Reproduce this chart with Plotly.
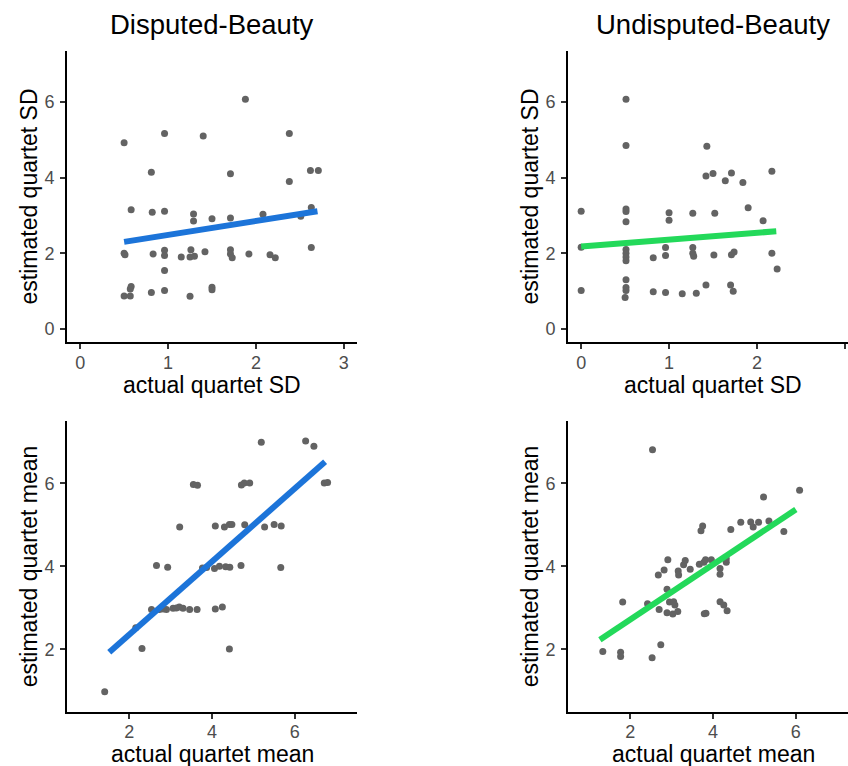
import plotly.graph_objects as go

W, H = 848, 766

# ---------------- data ----------------
# Panel 1: Disputed-Beauty, SD
dsd_x = [0.50, 0.96, 1.40, 1.88, 2.38, 0.81, 1.71, 2.38, 2.62, 2.71,
         0.58, 0.82, 0.96, 1.29, 1.29, 1.50, 1.71, 2.08, 2.51, 2.63,
         0.50, 0.51, 0.83, 0.96, 0.96, 1.15, 1.26, 1.25, 1.30, 1.42,
         1.71, 1.71, 1.73, 1.92, 2.16, 2.22, 2.63, 0.96, 0.58, 0.57,
         0.50, 0.57, 0.81, 0.96, 1.25, 1.50, 1.50]
dsd_y = [4.92, 5.17, 5.10, 6.07, 5.17, 4.14, 4.10, 3.90, 4.19, 4.19,
         3.15, 3.08, 3.11, 3.04, 2.85, 2.91, 2.93, 3.03, 2.98, 3.21,
         2.00, 1.96, 1.98, 2.08, 1.94, 1.90, 2.09, 1.90, 1.92, 2.04,
         2.09, 1.98, 1.88, 1.98, 1.96, 1.88, 2.15, 1.54, 1.12, 1.05,
         0.87, 0.87, 0.96, 1.01, 0.86, 1.10, 1.03]
dsd_fit_x = [0.50, 2.70]
dsd_fit_y = [2.30, 3.11]

# Panel 2: Undisputed-Beauty, SD
usd_x = [0.51, 0.51, 1.43, 1.42, 1.50, 1.71, 1.64, 1.84, 2.17, 0.00,
         0.51, 0.51, 0.51, 1.00, 1.00, 1.27, 1.52, 1.90, 2.07, 0.00,
         0.51, 0.51, 0.51, 0.51, 0.82, 0.96, 0.96, 1.27, 1.27, 1.28,
         1.51, 1.71, 1.74, 2.17, 2.23, 0.00, 0.51, 0.51, 0.51, 0.50,
         0.82, 0.96, 1.15, 1.31, 1.42, 1.70, 1.73]
usd_y = [6.07, 4.85, 4.83, 4.04, 4.11, 4.12, 3.92, 3.87, 4.17, 3.11,
         3.17, 3.10, 2.83, 3.07, 2.87, 3.06, 3.06, 3.20, 2.86, 2.16,
         2.10, 2.00, 1.90, 1.80, 1.88, 2.15, 1.94, 2.15, 2.00, 1.92,
         1.95, 1.96, 2.03, 2.00, 1.58, 1.01, 1.30, 1.09, 1.01, 0.83,
         0.98, 0.96, 0.93, 0.94, 1.16, 1.16, 0.99]
usd_fit_x = [0.00, 2.22]
usd_fit_y = [2.18, 2.58]

# Panel 3: Disputed-Beauty, mean
dmean_x = [1.41, 2.31, 2.16, 4.42, 2.66, 2.93, 3.22, 3.55, 3.65, 4.71,
           4.78, 4.91, 5.19, 6.26, 6.46, 6.71, 6.79, 4.08, 4.30, 4.42,
           4.48, 4.79, 5.27, 5.50, 5.67, 3.77, 3.87, 4.06, 4.18, 4.33,
           4.43, 4.70, 5.66, 2.54, 2.73, 2.90, 3.06, 3.21, 3.30, 3.46,
           3.64, 4.08, 4.25, 2.82, 3.14]
dmean_y = [0.98, 2.02, 2.52, 2.01, 4.02, 3.98, 4.95, 5.97, 5.95, 5.96,
           6.01, 6.01, 6.99, 7.02, 6.89, 6.01, 6.02, 4.97, 4.95, 5.01,
           5.01, 5.00, 4.95, 5.01, 4.97, 3.96, 3.97, 3.95, 4.00, 3.99,
           3.98, 4.02, 3.97, 2.96, 2.96, 2.96, 2.99, 3.02, 2.99, 2.96,
           2.96, 2.97, 3.02, 2.97, 3.00]
dmean_fit_x = [1.52, 6.73]
dmean_fit_y = [1.93, 6.52]

# Panel 4: Undisputed-Beauty, mean
umean_x = [2.54, 6.09, 5.22, 5.71, 4.67, 4.91, 4.97, 5.10, 5.35, 4.43,
           3.71, 3.75, 1.34, 1.77, 1.77, 2.53, 2.74, 1.82, 2.42, 2.70,
           2.68, 2.82, 2.91, 2.89, 2.95, 3.05, 3.08, 2.89, 3.03, 3.15,
           3.16, 3.17, 3.29, 3.33, 3.45, 3.67, 3.78, 3.82, 3.96, 3.79,
           3.83, 4.17, 4.17, 4.32, 4.32, 4.17, 4.26, 4.34]
umean_y = [6.81, 5.83, 5.67, 4.84, 5.06, 5.07, 4.95, 5.06, 5.09, 4.89,
           4.86, 4.97, 1.95, 1.93, 1.83, 1.80, 2.11, 3.14, 3.10, 2.96,
           3.79, 3.91, 4.16, 3.45, 3.14, 3.15, 3.07, 2.88, 2.85, 2.91,
           3.89, 3.79, 4.04, 4.14, 3.93, 4.05, 4.10, 4.16, 4.16, 2.86,
           2.87, 3.95, 3.81, 4.10, 4.18, 3.15, 3.07, 2.93]
umean_fit_x = [1.27, 6.00]
umean_fit_y = [2.23, 5.37]

titles = ["Disputed-Beauty", "Undisputed-Beauty"]
xtitles = ["actual quartet SD", "actual quartet mean"]
ytitles = ["estimated quartet SD", "estimated quartet mean"]
sd_ticks = [0, 1, 2, 3]
sd_yticks = [0, 2, 4, 6]
mean_ticks = [2, 4, 6]

BLUE = "#1c74d9"
GREEN = "#23d95a"
POINT = "#636363"
FONT = "Liberation Sans, Arial, sans-serif"

# ---------------- geometry (pixels) ----------------
px_left = [67, 568]
px_right = [357, 858]
py_top = [51, 421]
py_bot = [342, 711.7]
xtitle_py = [385, 754]

def xdom(c):
    return [px_left[c] / W, min(px_right[c], W) / W]

def ydom(r):
    return [1 - py_bot[r] / H, 1 - py_top[r] / H]

fig = go.Figure()

panels = [
    (0, 0, dsd_x, dsd_y, dsd_fit_x, dsd_fit_y, BLUE),
    (0, 1, usd_x, usd_y, usd_fit_x, usd_fit_y, GREEN),
    (1, 0, dmean_x, dmean_y, dmean_fit_x, dmean_fit_y, BLUE),
    (1, 1, umean_x, umean_y, umean_fit_x, umean_fit_y, GREEN),
]

full_ranges_x = [[-0.15, 3.15], [0.5, 7.5]]
full_ranges_y = [[-0.35, 7.35], [0.5, 7.5]]

for i, (r, c, xs, ys, fx, fy, col) in enumerate(panels):
    n = i + 1
    xa = "x" if n == 1 else f"x{n}"
    ya = "y" if n == 1 else f"y{n}"
    fig.add_trace(go.Scatter(x=xs, y=ys, mode="markers", xaxis=xa, yaxis=ya,
                             marker=dict(color=POINT, size=7, line=dict(width=0)),
                             showlegend=False, hoverinfo="skip"))
    fig.add_trace(go.Scatter(x=fx, y=fy, mode="lines", xaxis=xa, yaxis=ya,
                             line=dict(color=col, width=6),
                             showlegend=False, hoverinfo="skip"))
    rx = list(full_ranges_x[r])
    # clip the right column at the page edge
    span = rx[1] - rx[0]
    pw = px_right[c] - px_left[c]
    visible = min(px_right[c], W) - px_left[c]
    rx[1] = rx[0] + span * visible / pw
    xkey = "xaxis" if n == 1 else f"xaxis{n}"
    ykey = "yaxis" if n == 1 else f"yaxis{n}"
    fig.update_layout(**{
        xkey: dict(domain=xdom(c), range=rx, anchor=ya,
                   tickmode="array", tickvals=sd_ticks if r == 0 else mean_ticks),
        ykey: dict(domain=ydom(r), range=full_ranges_y[r], anchor=xa,
                   tickmode="array", tickvals=sd_yticks if r == 0 else mean_ticks),
    })

axstyle = dict(showline=True, linecolor="black", linewidth=2,
               ticks="outside", ticklen=5, tickwidth=1.5, tickcolor="#333333",
               showgrid=False, zeroline=False,
               tickfont=dict(family="Liberation Sans", size=18, color="#4d4d4d"))
fig.update_xaxes(ticklabelstandoff=-2, **axstyle)
fig.update_yaxes(ticklabelstandoff=2, **axstyle)

annotations = []
for c in range(2):
    cx = (px_left[c] + px_right[c]) / 2
    annotations.append(dict(text=titles[c], x=cx / W, y=1 - 25 / H, xref="paper", yref="paper",
                            xanchor="center", yanchor="middle", showarrow=False,
                            font=dict(family=FONT, size=27.5, color="black")))
    for r in range(2):
        annotations.append(dict(text=xtitles[r], x=cx / W, y=1 - xtitle_py[r] / H,
                                xref="paper", yref="paper", xanchor="center", yanchor="middle",
                                showarrow=False, font=dict(family=FONT, size=23, color="black")))
        cy = (py_top[r] + py_bot[r]) / 2
        annotations.append(dict(text=ytitles[r], x=(px_left[c] - 38) / W, y=1 - cy / H,
                                xref="paper", yref="paper", xanchor="center", yanchor="middle",
                                textangle=-90, showarrow=False,
                                font=dict(family=FONT, size=23, color="black")))

fig.update_layout(width=W, height=H, margin=dict(l=0, r=0, t=0, b=0),
                  plot_bgcolor="white", paper_bgcolor="white",
                  annotations=annotations, showlegend=False)

fig.write_html("out.html")
